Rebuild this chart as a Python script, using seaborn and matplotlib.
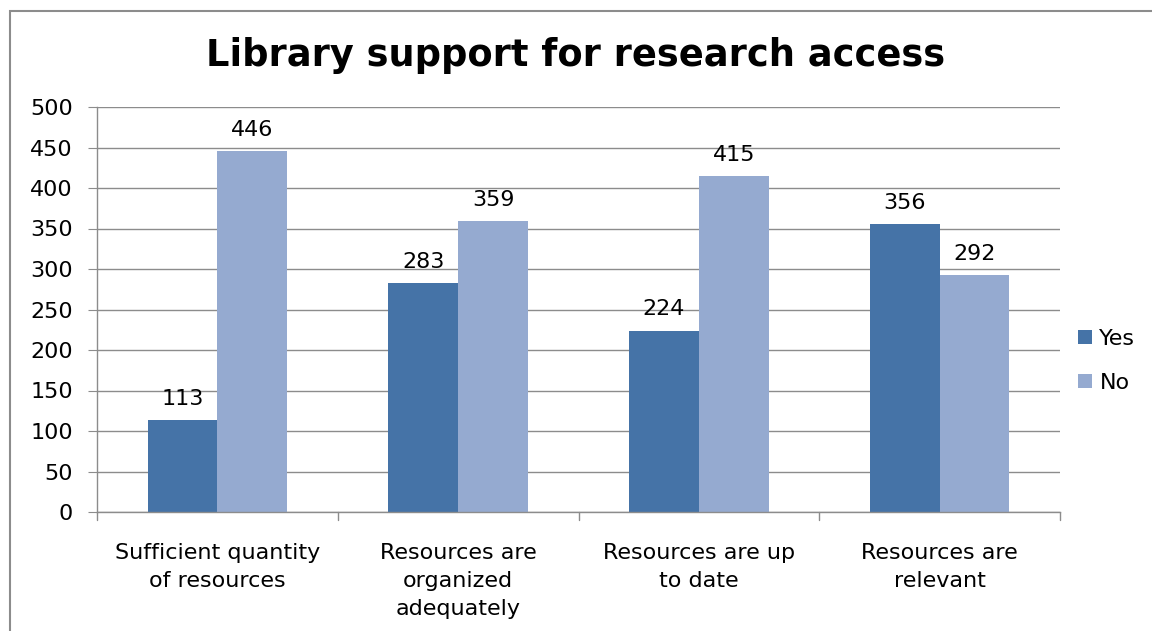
import matplotlib
matplotlib.use("Agg")
import matplotlib.pyplot as plt
import seaborn as sns
import pandas as pd
from matplotlib.patches import Rectangle

categories = ["Sufficient quantity\nof resources",
              "Resources are\norganized\nadequately",
              "Resources are up\nto date",
              "Resources are\nrelevant"]
yes_values = [113, 283, 224, 356]
no_values = [446, 359, 415, 292]
series = ["Yes", "No"]
colors = ["#4573A7", "#95AAD0"]

df = pd.DataFrame({
    "category": categories * 2,
    "answer": ["Yes"] * 4 + ["No"] * 4,
    "count": yes_values + no_values,
})

sns.set_style("white")
plt.rcParams["font.family"] = ["DejaVu Sans"]
plt.rcParams["text.color"] = "black"
plt.rcParams["xtick.color"] = "black"
plt.rcParams["ytick.color"] = "black"

FS = 16

fig = plt.figure(figsize=(11.52, 6.31), dpi=100)
ax = fig.add_axes([97 / 1152, 1 - 512 / 631, (1060 - 97) / 1152, (512 - 107) / 631])

sns.barplot(data=df, x="category", y="count", hue="answer", hue_order=series,
            palette=colors, width=0.58, saturation=1, ax=ax, legend=True,
            linewidth=0, edgecolor="none")

for container in ax.containers:
    ax.bar_label(container, padding=8, fontsize=FS, color="black")

ax.set_ylim(0, 500)
ax.set_yticks(range(0, 501, 50))
ax.set_xlim(-0.5, 3.5)
ax.yaxis.grid(True, color="#8c8c8c", linewidth=1)
ax.set_axisbelow(True)
ax.set_xlabel("")
ax.set_ylabel("")
for s in ["top", "right"]:
    ax.spines[s].set_visible(False)
for s in ["left", "bottom"]:
    ax.spines[s].set_color("#8c8c8c")
    ax.spines[s].set_linewidth(1)

ax.tick_params(axis="y", left=True, length=6.5, color="#8c8c8c", labelsize=FS,
               labelcolor="black", pad=11)
ax.set_xticks(range(4))
ax.set_xticklabels(categories, fontsize=FS, linespacing=1.52, color="black")
ax.tick_params(axis="x", bottom=False, pad=18.5)
# category separators on the x axis
for b in [-0.5, 0.5, 1.5, 2.5, 3.5]:
    ax.plot([b, b], [0, -0.02], transform=ax.get_xaxis_transform(),
            color="#8c8c8c", lw=1, clip_on=False)

leg = ax.legend(loc="center left", bbox_to_anchor=(1.019, 0.373), frameon=False,
                fontsize=FS, handlelength=0.6, handleheight=0.6,
                handletextpad=0.35, labelspacing=1.05, borderaxespad=0, borderpad=0)
for t in leg.get_texts():
    t.set_color("black")

fig.suptitle("Library support for research access", fontsize=26.5, fontweight="bold",
             y=1 - 55 / 631, va="center", color="black")

# outer chart frame
fig.patches.append(Rectangle((10 / 1152, -0.1), 1.2, 1 - 11 / 631 + 0.1,
                             transform=fig.transFigure, fill=False,
                             edgecolor="#8c8c8c", linewidth=1.5))

fig.savefig("out.png", dpi=100)
